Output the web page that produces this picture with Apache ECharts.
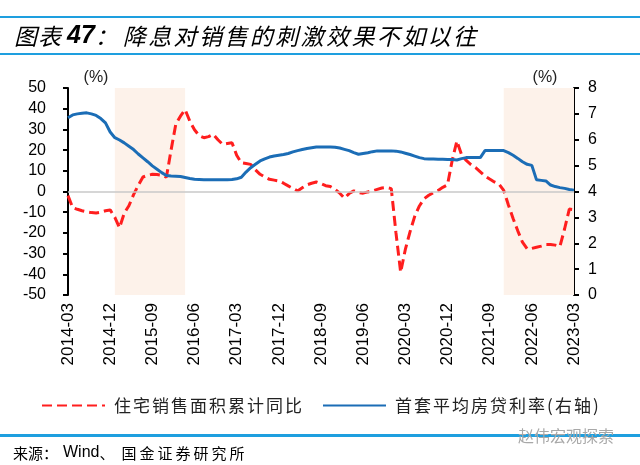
<!DOCTYPE html>
<html><head><meta charset="utf-8">
<script src="https://cdn.jsdelivr.net/npm/echarts/dist/echarts.min.js"></script>
<style>html,body{margin:0;padding:0;background:#fff}#c{width:640px;height:465px}</style>
</head><body><div id="c"></div>
<script>
// ---- data ----
const startYear = 2014, startMonth = 3, monthCount = 109;
const categories = [];
for (let i = 0; i < monthCount; i++) {
  const t = (startMonth - 1) + i;
  const y = startYear + Math.floor(t / 12), m = (t % 12) + 1;
  categories.push(y + '-' + (m < 10 ? '0' + m : m));
}
const xTickLabels = ['2014-03','2014-12','2015-09','2016-06','2017-03','2017-12','2018-09','2019-06','2020-03','2020-12','2021-09','2022-06','2023-03'];
// 住宅销售面积累计同比 (%), left axis
const salesAreaYoY = [
  -2, -7.8, -8.6, -9.3, -9.8, -10.2, -10.4, -10.0, -9.3, -8.9,
  -12.5, -17.5, -10.5, -6.9, -1.5, 3.0, 7.0, 7.8, 8.3, 8.2,
  7.9, 6.9, 20, 32.4, 36.4, 39.5, 34, 29.8, 27, 26,
  26.5, 27.6, 25, 22.8, 23.2, 23.6, 17.5, 13.9, 13.5, 13.1,
  10.5, 8.3, 7.0, 5.9, 5.5, 5.1, 4.0, 2.7, 1.5, 0.3,
  1.8, 3.2, 4.0, 4.6, 3.8, 2.8, 2.4, 1.0, -0.8, -3.2,
  -1.0, 0.3, -0.5, -0.8, -0.2, 0.3, 1.0, 1.7, 1.9, 1.4,
  -20, -39, -28, -19.5, -12, -7, -3.5, -1.8, -0.5, 0.5,
  2.0, 3.2, 15, 24.4, 17.8, 15, 13, 11.5, 9.5, 7.5,
  6.0, 4.6, 3.6, 0.5, -6.5, -13, -19, -24.5, -27.7, -27.5,
  -26.9, -26.4, -25.6, -25.6, -25.9, -26.5, -18, -8.5, -8.8
];
// 首套平均房贷利率 (%), right axis
const mortgageRate = [
  6.85, 6.96, 7.0, 7.02, 7.04, 7.0, 6.94, 6.82, 6.65, 6.3,
  6.08, 5.99, 5.88, 5.75, 5.62, 5.45, 5.3, 5.15, 4.99, 4.86,
  4.73, 4.62, 4.6, 4.59, 4.58, 4.54, 4.5, 4.47, 4.46, 4.45,
  4.45, 4.45, 4.45, 4.45, 4.45, 4.46, 4.49, 4.55, 4.75, 4.92,
  5.05, 5.18, 5.26, 5.33, 5.37, 5.40, 5.43, 5.47, 5.53, 5.58,
  5.62, 5.66, 5.69, 5.72, 5.72, 5.72, 5.72, 5.71, 5.68, 5.63,
  5.58, 5.50, 5.44, 5.47, 5.50, 5.54, 5.57, 5.57, 5.57, 5.57,
  5.56, 5.53, 5.48, 5.43, 5.37, 5.31, 5.27, 5.26, 5.26, 5.25,
  5.25, 5.24, 5.24, 5.22, 5.27, 5.31, 5.31, 5.31, 5.31, 5.58,
  5.58, 5.58, 5.58, 5.58, 5.5, 5.4, 5.28, 5.15, 5.05, 5.01,
  4.45, 4.43, 4.41, 4.25, 4.19, 4.15, 4.12, 4.08, 4.05
];
const shadedPeriods = [['2015-01', '2016-04'], ['2021-12', '2023-03']];
const seriesNames = ['住宅销售面积累计同比', '首套平均房贷利率(右轴)'];
const titleText = '图表 47：降息对销售的刺激效果不如以往';
const sourceText = '来源：Wind、国金证券研究所';

// ---- chart ----
const CJK = '"Noto Sans CJK SC", "Noto Sans", sans-serif';
const LAT = '"Liberation Sans", Arial, sans-serif';
const LINE_BLUE = '#1E9FDF';
const RED = '#FF1E1E', BLUE = '#1B6DB6';

function titleRich(s) {
  const idx = s.indexOf('47');
  const head = s.slice(0, idx).trim();
  const tail = s.slice(idx + 2);
  let out = head.split('').map(c => '{h|' + c + '}').join('');
  out += '{sp| }{n|47}';
  out += tail.split('').map((c, i) => (i === 0 ? '{col|' : '{t|') + c + '}').join('');
  return out;
}
function legendRich(name) {
  return name.split('').map(c => /[()]/.test(c) ? '{p|' + c + '}' : '{c|' + c + '}').join('');
}
function sourceRich(s) {
  const parts = s.split('Wind');
  const a = parts[0], b = parts[1];
  let out = a.split('').map(c => (c === '：' ? '{fc|' : '{f|') + c + '}').join('');
  out += '{w|Wind}';
  out += b.split('').map(c => (c === '、' ? '{fd|' : '{g|') + c + '}').join('');
  return out;
}

const chart = echarts.init(document.getElementById('c'), null, {renderer: 'canvas'});
const titleBase = {fontFamily: CJK, fontSize: 23, fontStyle: 'italic', color: '#111'};
chart.setOption({
  animation: false,
  grid: {left: 68, right: 66, top: 88, bottom: 170},
  legend: {
    left: 36, top: 392, itemWidth: 63, itemHeight: 14, itemGap: 20,
    data: seriesNames,
    formatter: legendRich,
    itemStyle: {opacity: 0},
    textStyle: {
      fontFamily: CJK, fontSize: 17, color: '#222', padding: [0, 0, 0, 4],
      rich: {
        c: {width: 19, fontFamily: CJK, fontSize: 17, color: '#222'},
        p: {width: 8, fontFamily: CJK, fontSize: 17, color: '#222'}
      }
    }
  },
  xAxis: {
    type: 'category', data: categories, boundaryGap: false,
    axisLine: {show: false}, axisTick: {show: false}, splitLine: {show: false},
    axisLabel: {
      rotate: 90, margin: 8, fontSize: 17, fontFamily: LAT, color: '#000',
      interval: (i, v) => xTickLabels.includes(v)
    }
  },
  yAxis: [
    {
      type: 'value', min: -50, max: 50, interval: 10, position: 'left',
      axisLine: {show: true, lineStyle: {color: '#000', width: 2}},
      axisTick: {show: true, length: 5, lineStyle: {color: '#000', width: 2}},
      splitLine: {show: false},
      axisLabel: {fontSize: 16, fontFamily: LAT, color: '#000', margin: 22}
    },
    {
      type: 'value', min: 0, max: 8, interval: 1, position: 'right',
      axisLine: {show: true, lineStyle: {color: '#000', width: 2}},
      axisTick: {show: true, length: 5, lineStyle: {color: '#000', width: 2}},
      splitLine: {show: false},
      axisLabel: {fontSize: 16, fontFamily: LAT, color: '#000', margin: 14}
    }
  ],
  series: [
    {
      name: seriesNames[0], type: 'line', yAxisIndex: 0, data: salesAreaYoY,
      symbol: 'none', z: 3,
      lineStyle: {color: RED, width: 3, type: [10, 5]},
      itemStyle: {color: RED},
      markLine: {
        silent: true, symbol: 'none', label: {show: false},
        lineStyle: {color: '#C8C8C8', width: 1.5, type: 'solid'},
        data: [{yAxis: 0}]
      },
      markArea: {
        silent: true, itemStyle: {color: '#FDF2EA'},
        data: shadedPeriods.map(p => [{xAxis: p[0]}, {xAxis: p[1]}])
      }
    },
    {
      name: seriesNames[1], type: 'line', yAxisIndex: 1, data: mortgageRate,
      symbol: 'none', z: 4,
      lineStyle: {color: BLUE, width: 3},
      itemStyle: {color: BLUE}
    }
  ],
  graphic: [
    {type: 'rect', shape: {x: 0, y: 16, width: 640, height: 2}, style: {fill: LINE_BLUE}},
    {type: 'rect', shape: {x: 0, y: 53, width: 640, height: 2}, style: {fill: LINE_BLUE}},
    {type: 'rect', shape: {x: 0, y: 434, width: 640, height: 3}, style: {fill: LINE_BLUE}},
    {
      type: 'text', x: 14, y: 36,
      style: {
        text: titleRich(titleText), verticalAlign: 'middle',
        rich: {
          h: Object.assign({width: 24}, titleBase),
          sp: Object.assign({width: 5}, titleBase),
          n: {fontFamily: LAT, fontSize: 25, fontWeight: 'bold', fontStyle: 'italic', color: '#111'},
          col: Object.assign({width: 28}, titleBase),
          t: Object.assign({width: 25.4}, titleBase)
        }
      }
    },
    {type: 'text', x: 96, y: 78, style: {text: '(%)', font: '16px ' + LAT, fill: '#222', align: 'center', verticalAlign: 'middle'}},
    {type: 'text', x: 545, y: 78, style: {text: '(%)', font: '16px ' + LAT, fill: '#222', align: 'center', verticalAlign: 'middle'}},
    {
      type: 'text', x: 13, y: 453,
      style: {
        text: sourceRich(sourceText), verticalAlign: 'middle',
        rich: {
          f: {width: 15, fontFamily: CJK, fontSize: 15, color: '#222'},
          fc: {width: 20, fontFamily: CJK, fontSize: 15, color: '#222'},
          w: {fontFamily: LAT, fontSize: 16, color: '#222'},
          fd: {width: 22, fontFamily: CJK, fontSize: 15, color: '#222'},
          g: {width: 18, fontFamily: CJK, fontSize: 15, color: '#222'}
        }
      }
    },
    {type: 'text', x: 518, y: 436, style: {text: '赵伟宏观探索', font: '16px ' + CJK, fill: '#A8A8A8', verticalAlign: 'middle'}}
  ]
});
</script>
</body></html>
